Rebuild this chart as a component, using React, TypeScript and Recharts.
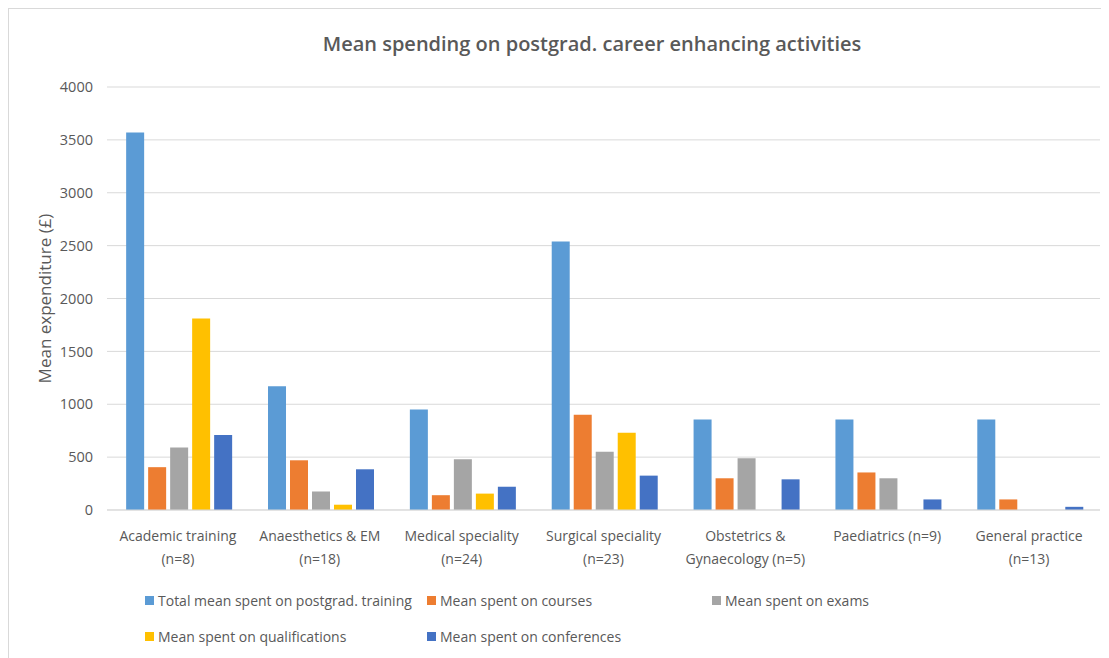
import { BarChart, Bar, XAxis, YAxis, CartesianGrid, Legend } from 'recharts';

const categories = [
  'Academic training\n(n=8)',
  'Anaesthetics & EM\n(n=18)',
  'Medical speciality\n(n=24)',
  'Surgical speciality\n(n=23)',
  'Obstetrics &\nGynaecology (n=5)',
  'Paediatrics (n=9)',
  'General practice\n(n=13)',
];

const totalSpent = [3570, 1170, 950, 2540, 855, 855, 855];
const coursesSpent = [405, 470, 140, 900, 300, 355, 100];
const examsSpent = [590, 175, 480, 550, 490, 300, 0];
const qualificationsSpent = [1810, 50, 155, 730, 0, 0, 0];
const conferencesSpent = [710, 385, 220, 325, 290, 100, 30];

const yTicks = [0, 500, 1000, 1500, 2000, 2500, 3000, 3500, 4000];

const series = [
  { key: 'total', name: 'Total mean spent on postgrad. training', color: '#5B9BD5', values: totalSpent },
  { key: 'courses', name: 'Mean spent on courses', color: '#ED7D31', values: coursesSpent },
  { key: 'exams', name: 'Mean spent on exams', color: '#A5A5A5', values: examsSpent },
  { key: 'qualifications', name: 'Mean spent on qualifications', color: '#FFC000', values: qualificationsSpent },
  { key: 'conferences', name: 'Mean spent on conferences', color: '#4472C4', values: conferencesSpent },
];

const data = categories.map((c, i) => {
  const row: Record<string, string | number> = { category: c };
  series.forEach((s) => {
    row[s.key] = s.values[i];
  });
  return row;
});

const TEXT = '#595959';
const FONT = '"Open Sans", sans-serif';

function CategoryTick(props: any) {
  const { x, y, payload } = props;
  const lines = String(payload.value).split('\n');
  return (
    <text x={x} y={y} textAnchor="middle" fill={TEXT} fontSize={14} fontFamily={FONT}>
      {lines.map((l, i) => (
        <tspan key={i} x={x} dy={i === 0 ? 31 : 23}>
          {l}
        </tspan>
      ))}
    </text>
  );
}

// keep the series order (recharts sorts the payload by name otherwise)
function LegendContent() {
  return (
    <div
      style={{
        display: 'grid',
        gridTemplateColumns: '282px 285px 286px',
        rowGap: 16,
        fontFamily: FONT,
        fontSize: 14,
        color: TEXT,
      }}
    >
      {series.map((s) => (
        <div key={s.key} style={{ display: 'flex', alignItems: 'center', height: 20, whiteSpace: 'nowrap' }}>
          <span style={{ width: 9, height: 9, background: s.color, marginRight: 4, display: 'inline-block' }} />
          {s.name}
        </div>
      ))}
    </div>
  );
}

export default function App() {
  return (
    <div
      style={{
        position: 'relative',
        width: 1101,
        height: 650,
        borderTop: '1px solid #d9d9d9',
        borderLeft: '1px solid #d9d9d9',
        boxSizing: 'border-box',
        fontFamily: FONT,
        background: '#fff',
      }}
    >
      <div
        style={{
          position: 'absolute',
          left: 0,
          width: 1166,
          top: 21,
          textAlign: 'center',
          fontSize: 20,
          fontWeight: 600,
          color: TEXT,
          fontFamily: FONT,
        }}
      >
        Mean spending on postgrad. career enhancing activities
      </div>
      <BarChart
        width={1100}
        height={640}
        data={data}
        margin={{ top: 78, right: 9, bottom: 79, left: 0 }}
        barCategoryGap="13.5%"
        barGap={4}
      >
        <CartesianGrid vertical={false} stroke="#d9d9d9" />
        <XAxis
          dataKey="category"
          interval={0}
          height={60}
          tickLine={false}
          tickSize={0}
          tickMargin={0}
          axisLine={{ stroke: '#d9d9d9' }}
          tick={<CategoryTick />}
        />
        <YAxis
          width={98}
          domain={[0, 4000]}
          ticks={yTicks}
          tickLine={false}
          axisLine={false}
          tickMargin={8}
          tick={{ fill: TEXT, fontSize: 14.5, fontFamily: FONT }}
          label={{
            value: 'Mean expenditure (£)',
            angle: -90,
            position: 'center',
            dx: -13,
            fill: TEXT,
            fontSize: 17,
            fontFamily: FONT,
          }}
        />
        <Legend
          layout="horizontal"
          verticalAlign="middle"
          align="center"
          wrapperStyle={{ left: 136, top: 581, width: 900 }}
          content={<LegendContent />}
        />
        {series.map((s) => (
          <Bar key={s.key} dataKey={s.key} name={s.name} fill={s.color} isAnimationActive={false} />
        ))}
      </BarChart>
    </div>
  );
}
